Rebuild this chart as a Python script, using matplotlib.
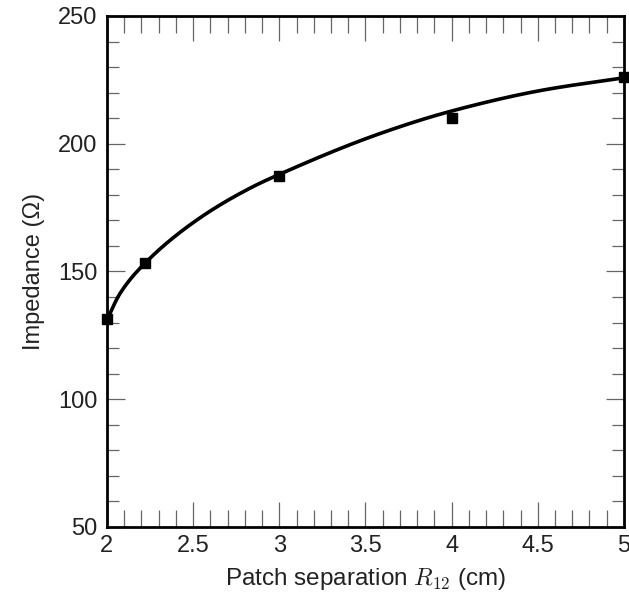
import numpy as np
import matplotlib
matplotlib.use("Agg")
import matplotlib.pyplot as plt
from matplotlib.ticker import MultipleLocator

plt.rcParams['font.family'] = ['Liberation Sans', 'DejaVu Sans']
plt.rcParams['mathtext.fontset'] = 'cm'

# measured data points
sep_cm = [2.0, 2.22, 3.0, 4.0, 5.0]
impedance = [131.5, 153.5, 187.5, 210.0, 226.0]

# points
curve_x = [2.0, 2.075, 2.22, 2.54, 2.83, 3.0, 3.585, 4.0, 4.53, 5.0]
curve_y = [131.0, 141.3, 153.2, 171.0, 182.6, 188.0, 204.0, 212.8, 221.0, 225.8]

def pchip(x, y, xq):
    x = np.asarray(x, float); y = np.asarray(y, float)
    h = np.diff(x); d = np.diff(y) / h
    m = np.zeros_like(y)
    for k in range(1, len(x) - 1):
        if d[k-1] * d[k] > 0:
            w1 = 2*h[k] + h[k-1]; w2 = h[k] + 2*h[k-1]
            m[k] = (w1 + w2) / (w1 / d[k-1] + w2 / d[k])
    m[0] = d[0]; m[-1] = d[-1]
    idx = np.clip(np.searchsorted(x, xq) - 1, 0, len(x) - 2)
    t = (xq - x[idx]) / h[idx]
    h00 = 2*t**3 - 3*t**2 + 1; h10 = t**3 - 2*t**2 + t
    h01 = -2*t**3 + 3*t**2; h11 = t**3 - t**2
    return h00*y[idx] + h10*h[idx]*m[idx] + h01*y[idx+1] + h11*h[idx]*m[idx+1]

fig = plt.figure(figsize=(6.29, 5.94), dpi=100)
ax = fig.add_axes([0.170, 0.1128, 0.822, 0.8603])

xs = np.linspace(2.0, 5.0, 400)
ax.plot(xs, pchip(curve_x, curve_y, xs), color='black', lw=2.6, zorder=3, clip_on=False)
ax.plot(sep_cm, impedance, 's', color='black', ms=6.5, zorder=4, clip_on=False)

ax.set_xlim(2, 5)
ax.set_ylim(50, 250)
ax.xaxis.set_major_locator(MultipleLocator(0.5))
ax.xaxis.set_minor_locator(MultipleLocator(0.1))
ax.yaxis.set_major_locator(MultipleLocator(50))
ax.yaxis.set_minor_locator(MultipleLocator(10))
ax.set_xticks([2, 2.5, 3, 3.5, 4, 4.5, 5])
ax.set_xticklabels(['2', '2.5', '3', '3.5', '4', '4.5', '5'])

for s in ax.spines.values():
    s.set_linewidth(2.0)
    s.set_color('black')

tc = '#666666'
ax.tick_params(axis='x', which='major', direction='in', length=18, width=0.9,
               color=tc, top=True, labelsize=17, pad=6)
ax.tick_params(axis='x', which='minor', direction='in', length=12, width=0.9,
               color=tc, top=True)
ax.tick_params(axis='y', which='major', direction='in', length=13, width=0.9,
               color=tc, right=True, labelsize=17, pad=7)
ax.tick_params(axis='y', which='minor', direction='in', length=8.5, width=0.9,
               color=tc, right=True)
for lab in ax.get_xticklabels() + ax.get_yticklabels():
    lab.set_color('#222222')

ax.set_xlabel('Patch separation $R_{\\mathsf{12}}$ (cm)', fontsize=17.5, color='#222222', labelpad=6)
ax.set_ylabel('Impedance (\u03a9)', fontsize=17, color='#222222', labelpad=9)

fig.savefig('out.png', dpi=100)
